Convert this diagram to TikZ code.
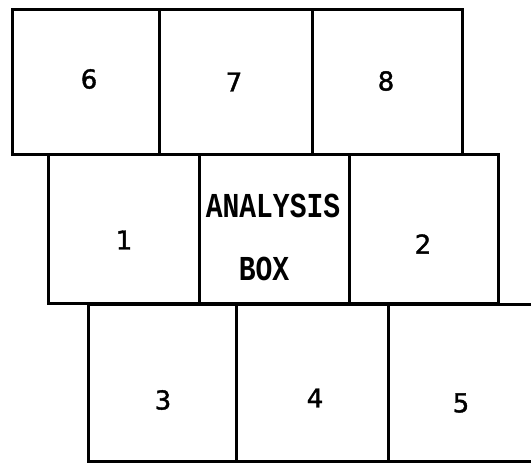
\documentclass[tikz,border=0pt]{standalone}
\usepackage{fontspec}
\usepackage{graphicx}
\newfontfamily\digitfont[FakeBold=1.5]{DejaVu Sans}
\newfontfamily\monofnt{Liberation Mono}
\begin{document}
\begin{tikzpicture}[x=1pt,y=-1pt,
  cell/.style={draw, line width=3pt, rectangle, inner sep=0pt, outer sep=0pt},
  num/.style={font=\digitfont\fontsize{26}{26}\selectfont, inner sep=0pt},
  mono/.style={font=\monofnt\bfseries\fontsize{28}{28}\selectfont, inner sep=0pt}]
\path[use as bounding box] (0,0) rectangle (531,465);
\clip (0,0) rectangle (531,465);
% top row
\node[cell, minimum width=147pt, minimum height=145pt] (b6) at (85.5,82.5) {};
\node[cell, minimum width=153pt, minimum height=145pt] (b7) at (235.5,82.5) {};
\node[cell, minimum width=150pt, minimum height=145pt] (b8) at (387,82.5) {};
% middle row
\node[cell, minimum width=151pt, minimum height=149pt] (b1) at (123.5,229.5) {};
\node[cell, minimum width=150pt, minimum height=149pt] (bA) at (274,229.5) {};
\node[cell, minimum width=149pt, minimum height=149pt] (b2) at (423.5,229.5) {};
% bottom row
\node[cell, minimum width=148pt, minimum height=157pt] (b3) at (162,383.5) {};
\node[cell, minimum width=152pt, minimum height=157pt] (b4) at (312,383.5) {};
\node[cell, minimum width=172pt, minimum height=157pt] (b5) at (474,383.5) {};
% labels
\node[num] (l6) at (89,79) {6};
\node[num] (l7) at (234,82) {7};
\node[num] (l8) at (386,81) {8};
\node[num] (l1) at (124,240) {1};
\node[num] (l2) at (423,244) {2};
\node[num] (l3) at (163,400) {3};
\node[num] (l4) at (315,398) {4};
\node[num] (l5) at (461,403) {5};
\node[mono] (la) at (273,206) {\scalebox{1}[1.25]{ANALYSIS}};
\node[mono] (lb) at (264,269) {\scalebox{1}[1.25]{BOX}};
\end{tikzpicture}
\end{document}
